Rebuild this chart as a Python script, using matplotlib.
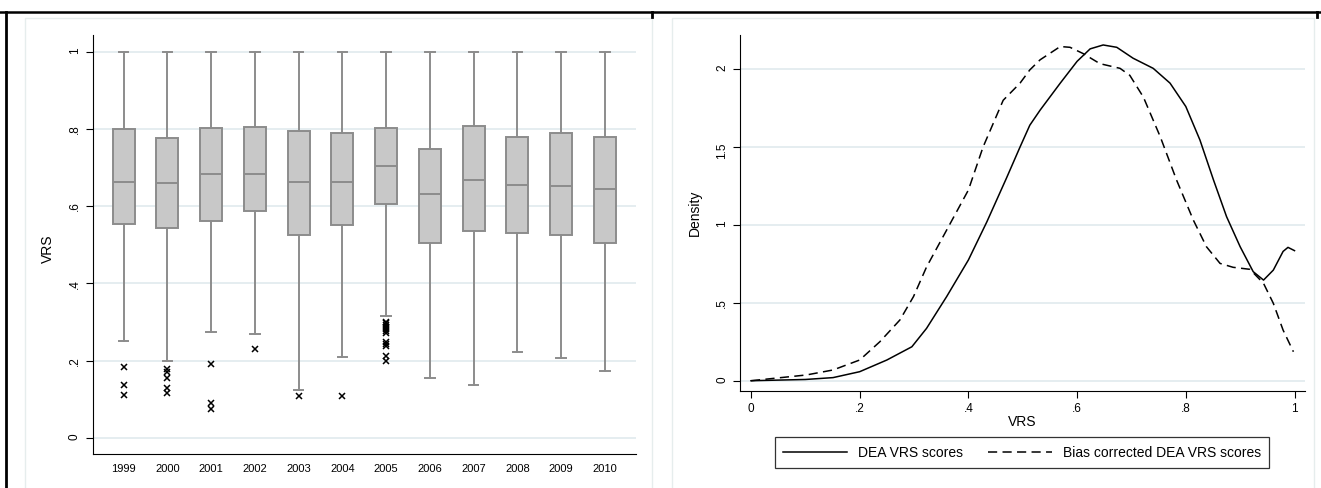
import matplotlib
matplotlib.use('Agg')
import matplotlib.pyplot as plt
from matplotlib import font_manager
from matplotlib.lines import Line2D
from matplotlib.patches import Rectangle

# Dados - box plot por ano
anos = ['1999', '2000', '2001', '2002', '2003', '2004',
        '2005', '2006', '2007', '2008', '2009', '2010']
q1 = [0.553, 0.543, 0.562, 0.587, 0.525, 0.551, 0.606, 0.505, 0.536, 0.530, 0.525, 0.504]
mediana = [0.663, 0.659, 0.683, 0.684, 0.662, 0.663, 0.704, 0.631, 0.668, 0.655, 0.652, 0.645]
q3 = [0.799, 0.776, 0.801, 0.805, 0.794, 0.788, 0.803, 0.747, 0.807, 0.779, 0.789, 0.780]
whisker_baixo = [0.251, 0.199, 0.275, 0.269, 0.124, 0.208, 0.316, 0.155, 0.136, 0.222, 0.206, 0.173]
whisker_alto = [1.0, 1.0, 1.0, 1.0, 1.0, 1.0, 1.0, 1.0, 1.0, 1.0, 1.0, 1.0]
outliers = [
    [0.183, 0.137, 0.112],
    [0.177, 0.170, 0.154, 0.128, 0.117],
    [0.190, 0.089, 0.074],
    [0.229],
    [0.108],
    [0.108],
    [0.300, 0.296, 0.291, 0.286, 0.281, 0.276, 0.272, 0.248, 0.243, 0.238, 0.211, 0.198],
    [], [], [], [], [],
]
yticks_box = [0, 0.2, 0.4, 0.6, 0.8, 1]
yticklabels_box = ['0', '.2', '.4', '.6', '.8', '1']

# Dados - densidades
x_dea = [0, 0.10, 0.151, 0.2, 0.25, 0.296, 0.323, 0.36, 0.4, 0.434, 0.47, 0.495,
         0.513, 0.532, 0.569, 0.6, 0.624, 0.648, 0.673, 0.703, 0.74, 0.771, 0.8,
         0.826, 0.851, 0.875, 0.9, 0.924, 0.943, 0.961, 0.979, 0.988, 1.0]
y_dea = [0, 0.008, 0.02, 0.058, 0.133, 0.218, 0.336, 0.54, 0.775, 1.02, 1.30, 1.50,
         1.64, 1.737, 1.91, 2.05, 2.13, 2.155, 2.14, 2.07, 2.005, 1.91, 1.76,
         1.545, 1.288, 1.053, 0.86, 0.70, 0.646, 0.71, 0.83, 0.856, 0.835]
x_bc = [0, 0.102, 0.151, 0.2, 0.237, 0.274, 0.299, 0.323, 0.36, 0.4, 0.427, 0.464,
        0.495, 0.513, 0.532, 0.569, 0.587, 0.611, 0.642, 0.679, 0.697, 0.722, 0.753,
        0.783, 0.814, 0.838, 0.863, 0.887, 0.918, 0.943, 0.961, 0.979, 0.998]
y_bc = [0, 0.037, 0.069, 0.133, 0.25, 0.39, 0.54, 0.73, 0.967, 1.224, 1.50, 1.80,
        1.91, 1.995, 2.06, 2.145, 2.14, 2.10, 2.035, 2.005, 1.96, 1.82, 1.566,
        1.288, 1.03, 0.86, 0.753, 0.728, 0.715, 0.625, 0.497, 0.325, 0.186]
xticks_dens = [0, 0.2, 0.4, 0.6, 0.8, 1]
xticklabels_dens = ['0', '.2', '.4', '.6', '.8', '1']
yticks_dens = [0, 0.5, 1, 1.5, 2]
yticklabels_dens = ['0', '.5', '1', '1.5', '2']

# Fonte estreita, parecida com a do Stata
nomes = {f.name for f in font_manager.fontManager.ttflist}
fonte = 'Liberation Sans Narrow' if 'Liberation Sans Narrow' in nomes else 'Liberation Sans'
plt.rcParams['font.family'] = [fonte, 'DejaVu Sans']

cor_grid = '#e3ecef'
cinza_box = '#c8c8c8'
cinza_linha = '#8c8c8c'

fig = plt.figure(figsize=(13.21, 4.88), dpi=100)

# moldura externa
fig.add_artist(Line2D([0, 1], [1 - 12 / 488, 1 - 12 / 488], color='black', lw=1.8))
fig.add_artist(Line2D([6 / 1321, 6 / 1321], [0, 1 - 12 / 488], color='black', lw=2))
fig.add_artist(Line2D([652 / 1321, 652 / 1321], [1 - 12 / 488, 1 - 17 / 488], color='black', lw=2))
fig.add_artist(Line2D([1317 / 1321, 1317 / 1321], [1 - 12 / 488, 1 - 17 / 488], color='black', lw=2))
fig.add_artist(Rectangle((25 / 1321, -0.01), 627 / 1321, 1 - 18 / 488 + 0.01,
                         transform=fig.transFigure, fill=False, ec='#e6eded', lw=1))
fig.add_artist(Rectangle((672 / 1321, -0.01), 642 / 1321, 1 - 18 / 488 + 0.01,
                         transform=fig.transFigure, fill=False, ec='#e6eded', lw=1))

# ---- Box plot ----
ax1 = fig.add_axes([92.6 / 1321, 1 - 454 / 488, 543.4 / 1321, 419 / 488])
stats = []
for i in range(len(anos)):
    stats.append({'label': anos[i], 'q1': q1[i], 'med': mediana[i], 'q3': q3[i],
                  'whislo': whisker_baixo[i], 'whishi': whisker_alto[i],
                  'fliers': outliers[i]})
for y in yticks_box:
    ax1.axhline(y, color=cor_grid, lw=1.3, zorder=0)
ax1.bxp(stats, positions=range(1, len(anos) + 1), widths=0.5, capwidths=0.22,
        patch_artist=True,
        boxprops=dict(facecolor=cinza_box, edgecolor=cinza_linha, lw=1.4),
        whiskerprops=dict(color=cinza_linha, lw=1.4),
        capprops=dict(color=cinza_linha, lw=1.4),
        medianprops=dict(color=cinza_linha, lw=1.4),
        flierprops=dict(marker='x', markeredgecolor='black', markersize=4.5, mew=1.1))
ax1.set_xlim(0.29, 12.71)
ax1.set_ylim(-0.042, 1.043)
ax1.set_yticks(yticks_box)
ax1.set_yticklabels(yticklabels_box)
ax1.tick_params(axis='y', labelrotation=90, length=5, labelsize=8.5)
ax1.tick_params(axis='x', length=0, labelsize=8, pad=7)
ax1.set_ylabel('VRS', fontsize=10)
ax1.yaxis.set_label_coords(-0.07, 0.49)
for s in ['top', 'right']:
    ax1.spines[s].set_visible(False)

# ---- Densidades ----
ax2 = fig.add_axes([740 / 1321, 1 - 390.7 / 488, 565 / 1321, 355.7 / 488])
for y in yticks_dens:
    ax2.axhline(y, color=cor_grid, lw=1.3, zorder=0)
ax2.plot(x_dea, y_dea, color='black', lw=1.1, label='DEA VRS scores')
ax2.plot(x_bc, y_bc, color='black', lw=1.1, linestyle=(0, (6, 3.5)),
         label='Bias corrected DEA VRS scores')
ax2.set_xlim(-0.0202, 1.0193)
ax2.set_ylim(-0.064, 2.219)
ax2.set_xticks(xticks_dens)
ax2.set_xticklabels(xticklabels_dens)
ax2.set_yticks(yticks_dens)
ax2.set_yticklabels(yticklabels_dens)
ax2.tick_params(axis='y', labelrotation=90, length=5, labelsize=8.5)
ax2.tick_params(axis='x', length=5, labelsize=8.5)
ax2.set_xlabel('VRS', fontsize=10)
ax2.xaxis.set_label_coords(0.5, -0.068)
ax2.set_ylabel('Density', fontsize=10)
ax2.yaxis.set_label_coords(-0.067, 0.5)
for s in ['top', 'right']:
    ax2.spines[s].set_visible(False)

leg = fig.legend(loc='center', bbox_to_anchor=(1022 / 1321, 1 - 452.7 / 488), ncol=2,
                 fontsize=10, handlelength=4.6, columnspacing=1.8, fancybox=False,
                 edgecolor='#333333', framealpha=1, borderpad=0.6)
leg.get_frame().set_linewidth(0.9)

plt.savefig('out.png', dpi=100)
